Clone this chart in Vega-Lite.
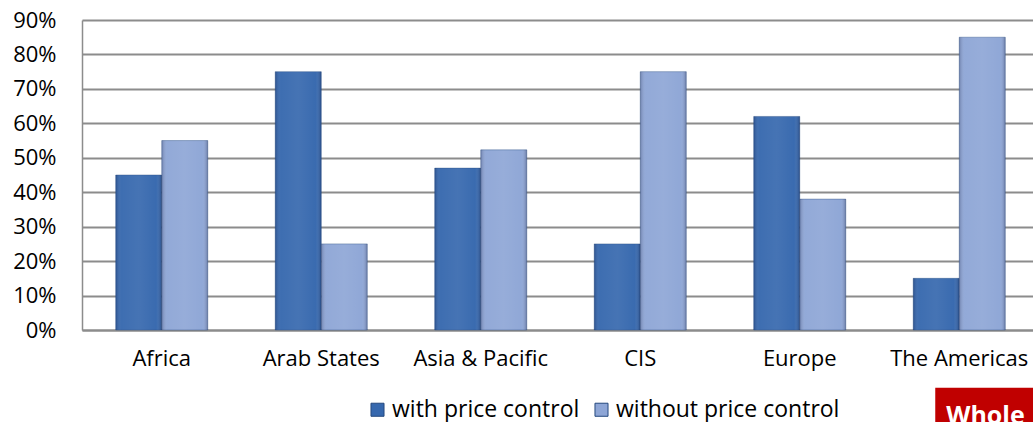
{
  "$schema": "https://vega.github.io/schema/vega-lite/v6.json",
  "width": 957,
  "height": 310,
  "autosize": {"type": "none"},
  "padding": {"left": 82, "top": 20, "right": 0, "bottom": 92},
  "background": "white",
  "config": {
    "view": {"stroke": null},
    "font": "Open Sans",
    "axis": {"labelFont": "Open Sans", "labelColor": "#000000"},
    "legend": {"labelFont": "Open Sans"}
  },
  "datasets": {
    "bars": [
      {"region": "Africa", "series": "with price control", "share": 0.45},
      {"region": "Africa", "series": "without price control", "share": 0.55},
      {"region": "Arab States", "series": "with price control", "share": 0.75},
      {"region": "Arab States", "series": "without price control", "share": 0.25},
      {"region": "Asia & Pacific", "series": "with price control", "share": 0.47},
      {"region": "Asia & Pacific", "series": "without price control", "share": 0.523},
      {"region": "CIS", "series": "with price control", "share": 0.25},
      {"region": "CIS", "series": "without price control", "share": 0.75},
      {"region": "Europe", "series": "with price control", "share": 0.62},
      {"region": "Europe", "series": "without price control", "share": 0.38},
      {"region": "The Americas", "series": "with price control", "share": 0.15},
      {"region": "The Americas", "series": "without price control", "share": 0.85}
    ],
    "box": [
      {"region": "The Americas", "share": -0.168, "share2": -0.32}
    ],
    "boxlabel": [
      {"region": "The Americas", "label": "Whole", "share": -0.232}
    ]
  },
  "encoding": {
    "x": {
      "field": "region", "type": "nominal", "sort": null,
      "scale": {"paddingInner": 0.423, "paddingOuter": 0.2115},
      "axis": {"title": null, "labelAngle": 0, "labelFontSize": 22, "labelPadding": 18, "ticks": false, "labelOverlap": false, "labelBound": false, "domainColor": "#8c8c8c", "domainWidth": 2}
    },
    "y": {
      "field": "share", "type": "quantitative",
      "scale": {"domain": [0, 0.9], "nice": false},
      "axis": {"title": null, "format": ".0%", "values": [0, 0.1, 0.2, 0.3, 0.4, 0.5, 0.6, 0.7, 0.8, 0.9], "labelFontSize": 22, "labelPadding": 26, "ticks": false, "labelOverlap": false, "labelFlush": false, "labelBound": false, "domainColor": "#8c8c8c", "domainWidth": 1.5, "gridColor": "#8c8c8c", "gridWidth": 2}
    }
  },
  "layer": [
    {
      "data": {"name": "bars"},
      "mark": {"type": "bar", "stroke": "#24487e", "strokeWidth": 0.8, "strokeOpacity": 0.5},
      "encoding": {
        "xOffset": {"field": "series", "type": "nominal", "scale": {"paddingInner": 0, "paddingOuter": 0}},
        "color": {
          "field": "series", "type": "nominal",
          "scale": {"domain": ["with price control", "without price control"], "range": ["#3668ae", "#8ea6d6"]},
          "legend": {"title": null, "orient": "none", "legendX": 284, "legendY": 378, "direction": "horizontal", "symbolType": "square", "symbolSize": 170, "symbolStrokeColor": "#24487e", "symbolStrokeWidth": 1, "labelFontSize": 23, "labelLimit": 0, "columnPadding": 10, "labelOffset": 3}
        }
      }
    },
    {
      "data": {"name": "bars"},
      "mark": {
        "type": "bar",
        "fill": {
          "gradient": "linear", "x1": 0, "y1": 0, "x2": 1, "y2": 0,
          "stops": [
            {"offset": 0, "color": "rgba(0,0,30,0.22)"},
            {"offset": 0.12, "color": "rgba(255,255,255,0.04)"},
            {"offset": 0.5, "color": "rgba(255,255,255,0.08)"},
            {"offset": 0.88, "color": "rgba(255,255,255,0.02)"},
            {"offset": 1, "color": "rgba(0,0,30,0.26)"}
          ]
        }
      },
      "encoding": {
        "xOffset": {"field": "series", "type": "nominal"}
      }
    },
    {
      "data": {"name": "box"},
      "mark": {"type": "bar", "color": "#c00000", "width": 130, "xOffset": 41},
      "encoding": {
        "y2": {"field": "share2"}
      }
    },
    {
      "data": {"name": "boxlabel"},
      "mark": {"type": "text", "color": "white", "fontWeight": "bold", "fontSize": 25, "align": "left", "baseline": "middle", "dx": -13, "dy": 6},
      "encoding": {
        "text": {"field": "label"}
      }
    }
  ]
}
